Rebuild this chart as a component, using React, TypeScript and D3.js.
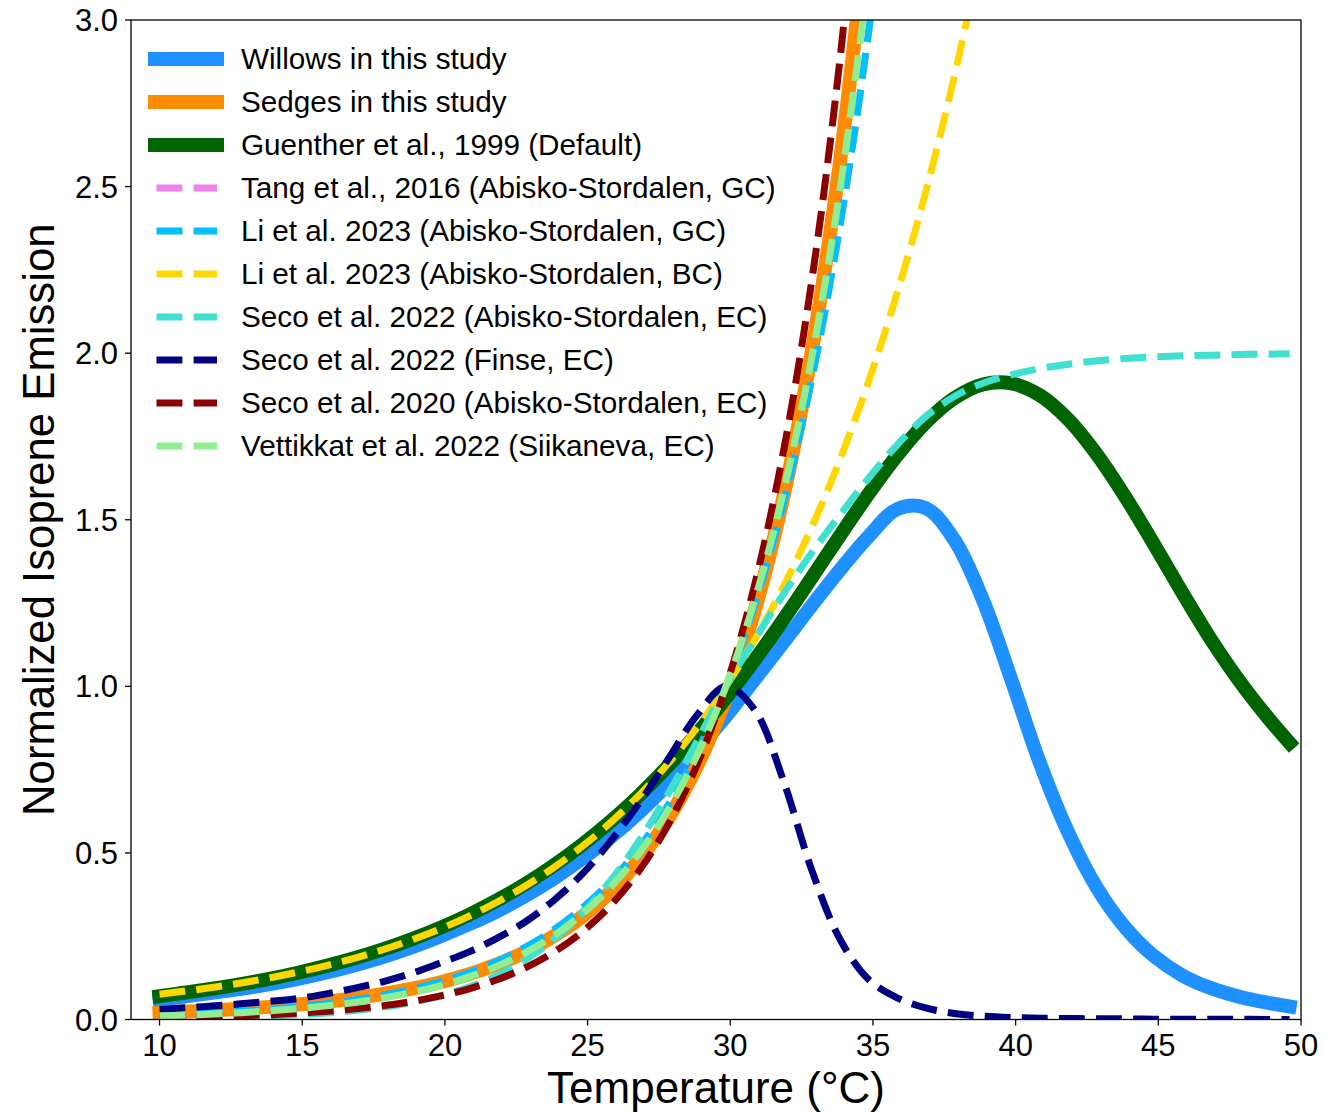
import React from "react";
import * as d3 from "d3";

// Temperature grid (°C)
const temperatures = [
  10.0, 10.85, 11.85, 12.85, 13.85, 14.85, 15.85, 16.85, 17.85, 18.85,
  19.85, 20.85, 21.85, 22.85, 23.85, 24.85, 25.85, 26.85, 27.85, 28.85,
  29.85, 30.85, 31.85, 32.85, 33.85, 34.85, 35.85, 36.85, 37.85, 38.85,
  39.85, 40.85, 41.85, 42.85, 43.85, 44.85, 45.85, 46.85, 47.85, 48.85, 49.6,
];

const willows = [
  0.060, 0.069, 0.080, 0.092, 0.106, 0.122, 0.141, 0.163, 0.188, 0.217,
  0.250, 0.286, 0.326, 0.372, 0.425, 0.485, 0.550, 0.625, 0.710, 0.810,
  0.910, 1.020, 1.130, 1.242, 1.350, 1.450, 1.532, 1.535, 1.440, 1.260,
  1.020, 0.770, 0.560, 0.395, 0.275, 0.190, 0.132, 0.094, 0.068, 0.050, 0.039,
];

const sedges = [
  0.0200, 0.0233, 0.0273, 0.0321, 0.0379, 0.0449, 0.0534, 0.0639, 0.0767, 0.0925,
  0.1120, 0.1362, 0.1665, 0.2043, 0.2517, 0.3115, 0.3872, 0.4834, 0.6060, 0.7631,
  0.9650, 1.2258, 1.5636, 2.0031, 2.5774, 3.3309,
];

const guenther = [
  0.0700, 0.0802, 0.0924, 0.1063, 0.1221, 0.1403, 0.1609, 0.1844, 0.2110, 0.2413,
  0.2757, 0.3146, 0.3587, 0.4083, 0.4644, 0.5272, 0.5977, 0.6763, 0.7636, 0.8598,
  0.9649, 1.0785, 1.1994, 1.3255, 1.4533, 1.5780, 1.6932, 1.7917, 1.8649, 1.9062,
  1.9095, 1.8735, 1.8005, 1.6957, 1.5678, 1.4260, 1.2800, 1.1400, 1.0150, 0.9050, 0.8300,
];

const liGC = [
  0.0129, 0.0160, 0.0199, 0.0248, 0.0308, 0.0383, 0.0476, 0.0592, 0.0735, 0.0914,
  0.1136, 0.1412, 0.1755, 0.2182, 0.2712, 0.3371, 0.4190, 0.5207, 0.6473, 0.8045,
  1.0000, 1.2430, 1.5450, 1.9204, 2.3869, 2.9669, 3.6877,
];

const tangGC = [
  0.0129, 0.0160, 0.0199, 0.0248, 0.0308, 0.0383, 0.0476, 0.0592, 0.0735, 0.0914,
  0.1136, 0.1412, 0.1755, 0.2182, 0.2712, 0.3371, 0.4190, 0.5207, 0.6473, 0.8045,
  1.0000, 1.2430, 1.5450, 1.9204, 2.3869, 2.9669, 3.6877,
];

const liBC = [
  0.0760, 0.0846, 0.0963, 0.1097, 0.1249, 0.1423, 0.1620, 0.1845, 0.2101, 0.2393,
  0.2725, 0.3104, 0.3535, 0.4025, 0.4584, 0.5220, 0.5945, 0.6771, 0.7711, 0.8781,
  1.0000, 1.1388, 1.2969, 1.4770, 1.6820, 1.9155, 2.1815, 2.4843, 2.8292, 3.2220,
];

const secoAS2022 = [
  0.0029, 0.0038, 0.0053, 0.0073, 0.0101, 0.0141, 0.0195, 0.0270, 0.0374, 0.0517,
  0.0712, 0.0976, 0.1332, 0.1806, 0.2426, 0.3222, 0.4217, 0.5418, 0.6815, 0.8365,
  1.0000, 1.1400, 1.2750, 1.4000, 1.5150, 1.6250, 1.7250, 1.8100, 1.8700, 1.9100,
  1.9350, 1.9540, 1.9670, 1.9770, 1.9840, 1.9890, 1.9920, 1.9940, 1.9960, 1.9970, 1.9980,
];

const secoFinse2022 = [
  0.030, 0.035, 0.0405, 0.047, 0.0545, 0.063, 0.077, 0.094, 0.114, 0.139,
  0.170, 0.203, 0.245, 0.295, 0.360, 0.440, 0.540, 0.655, 0.785, 0.915,
  1.000, 0.930, 0.720, 0.450, 0.240, 0.120, 0.065, 0.035, 0.018, 0.010,
  0.006, 0.004, 0.003, 0.002, 0.002, 0.001, 0.001, 0.001, 0.001, 0.000, 0.000,
];

const secoAS2020 = [
  0.0053, 0.0065, 0.0085, 0.0111, 0.0144, 0.0188, 0.0245, 0.0319, 0.0416, 0.0542,
  0.0707, 0.0921, 0.1200, 0.1565, 0.2039, 0.2658, 0.3465, 0.4516, 0.5886, 0.7672,
  1.0000, 1.3034, 1.6989, 2.2144, 2.8864, 3.7622,
];

const vettikkat = [
  0.0110, 0.0130, 0.0164, 0.0206, 0.0259, 0.0325, 0.0409, 0.0513, 0.0645, 0.0811,
  0.1019, 0.1280, 0.1609, 0.2021, 0.2540, 0.3192, 0.4011, 0.5040, 0.6333, 0.7958,
  1.0000, 1.2566, 1.5790, 1.9841, 2.4932, 3.1329,
];

const xTicks = [10, 15, 20, 25, 30, 35, 40, 45, 50];
const yTicks = [0, 0.5, 1.0, 1.5, 2.0, 2.5, 3.0];

const seriesList = [
  { label: "Willows in this study", values: willows, color: "#1E90FF", dashed: false },
  { label: "Sedges in this study", values: sedges, color: "#FF8C00", dashed: false },
  { label: "Guenther et al., 1999 (Default)", values: guenther, color: "#006400", dashed: false },
  { label: "Tang et al., 2016 (Abisko-Stordalen, GC)", values: tangGC, color: "#EE82EE", dashed: true },
  { label: "Li et al. 2023 (Abisko-Stordalen, GC)", values: liGC, color: "#00BFFF", dashed: true },
  { label: "Li et al. 2023 (Abisko-Stordalen, BC)", values: liBC, color: "#FFD700", dashed: true },
  { label: "Seco et al. 2022 (Abisko-Stordalen, EC)", values: secoAS2022, color: "#40E0D0", dashed: true },
  { label: "Seco et al. 2022 (Finse, EC)", values: secoFinse2022, color: "#000080", dashed: true },
  { label: "Seco et al. 2020 (Abisko-Stordalen, EC)", values: secoAS2020, color: "#8B0000", dashed: true },
  { label: "Vettikkat et al. 2022 (Siikaneva, EC)", values: vettikkat, color: "#90EE90", dashed: true },
];

const FONT = "'Liberation Sans', Arial, Helvetica, sans-serif";

export default function App() {
  const W = 1325;
  const H = 1113;
  const L = 131, R = 1301, T = 20, B = 1019.5;
  const x = d3.scaleLinear().domain([9, 50]).range([L, R]);
  const y = d3.scaleLinear().domain([0, 3]).range([B, T]);
  const line = d3
    .line<[number, number]>()
    .x((d) => x(d[0]))
    .y((d) => y(d[1]))
    .curve(d3.curveCatmullRom.alpha(0.5));

  const dash = "25.9 11.2";

  return (
    <svg
      width={W}
      height={H}
      viewBox={`0 0 ${W} ${H}`}
      style={{ position: "absolute", left: 0, top: 0, background: "#fff" }}
      fontFamily={FONT}
    >
      <rect x={0} y={0} width={W} height={H} fill="#fff" />
      <defs>
        <clipPath id="plotClip">
          <rect x={L} y={T} width={R - L} height={B - T} />
        </clipPath>
      </defs>

      <g clipPath="url(#plotClip)">
        {seriesList.map((s) => {
          const pts = s.values.map((v, i) => [temperatures[i], v] as [number, number]);
          return (
            <path
              key={s.label}
              d={line(pts) || ""}
              fill="none"
              stroke={s.color}
              strokeWidth={s.dashed ? 7 : 14}
              strokeDasharray={s.dashed ? dash : undefined}
              strokeLinecap={s.dashed ? "butt" : "square"}
              strokeLinejoin="round"
            />
          );
        })}
      </g>

      {/* spines */}
      <rect x={L} y={T} width={R - L} height={B - T} fill="none" stroke="#000" strokeWidth={1.3} />

      {/* x ticks */}
      {xTicks.map((t) => (
        <g key={"x" + t}>
          <line x1={x(t)} x2={x(t)} y1={B} y2={B + 6} stroke="#000" strokeWidth={1.3} />
          <text x={x(t)} y={1056} fontSize={31} textAnchor="middle" fill="#000">
            {t}
          </text>
        </g>
      ))}

      {/* y ticks */}
      {yTicks.map((t) => (
        <g key={"y" + t}>
          <line x1={L - 6} x2={L} y1={y(t)} y2={y(t)} stroke="#000" strokeWidth={1.3} />
          <text x={118} y={y(t) + 11} fontSize={31} textAnchor="end" fill="#000">
            {d3.format(".1f")(t)}
          </text>
        </g>
      ))}

      {/* axis labels */}
      <text x={(L + R) / 2} y={1103} fontSize={44} textAnchor="middle" fill="#000">
        Temperature (°C)
      </text>
      <text
        transform={`translate(54, ${(T + B) / 2}) rotate(-90)`}
        fontSize={43.7}
        textAnchor="middle"
        fill="#000"
      >
        Normalized Isoprene Emission
      </text>

      {/* legend */}
      {seriesList.map((s, i) => {
        const ry = 59 + 43 * i;
        return (
          <g key={"lg" + s.label}>
            {s.dashed ? (
              <line
                x1={156.5}
                x2={217}
                y1={ry}
                y2={ry}
                stroke={s.color}
                strokeWidth={7}
                strokeDasharray={dash}
              />
            ) : (
              <line
                x1={155}
                x2={217}
                y1={ry}
                y2={ry}
                stroke={s.color}
                strokeWidth={14}
                strokeLinecap="square"
              />
            )}
            <text x={241} y={ry + 10} fontSize={29.7} fill="#000">
              {s.label}
            </text>
          </g>
        );
      })}
    </svg>
  );
}
